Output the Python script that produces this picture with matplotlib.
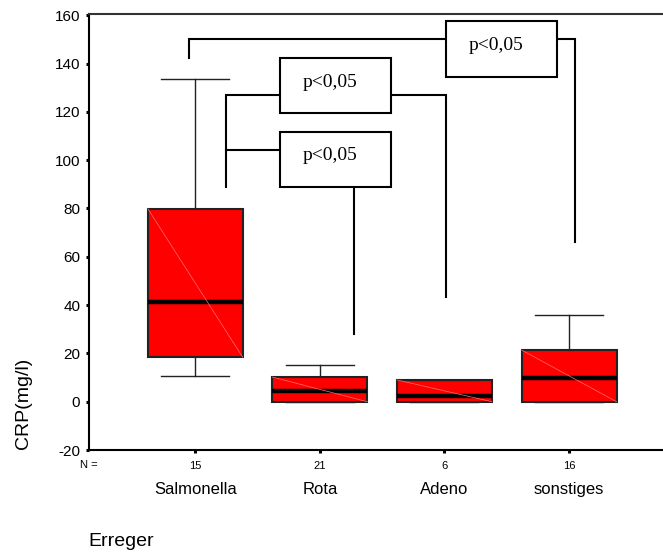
"""CRP by pathogen group: SPSS-style boxplot with significance brackets."""

import matplotlib

matplotlib.use("Agg", force=True)

import matplotlib.pyplot as plt
from matplotlib.patches import Rectangle
from matplotlib.transforms import blended_transform_factory

plt.rcParams["font.family"] = ["Liberation Sans", "DejaVu Sans"]

# data
categories = ["Salmonella", "Rota", "Adeno", "sonstiges"]
n_counts = ["15", "21", "6", "16"]
whisker_low = [10.8, 0.0, 0.0, 0.0]
box_low = [18.4, 0.0, 0.0, 0.0]
medians = [41.4, 4.4, 2.5, 9.9]
box_high = [79.9, 10.2, 9.0, 21.4]
whisker_high = [133.5, 15.2, 9.0, 36.0]

y_ticks = [-20, 0, 20, 40, 60, 80, 100, 120, 140, 160]

# significance annotations: polylines plus label boxes (x0, x1, y0, y1)
bracket_lines = [
    [(0.947, 142.2), (0.947, 150.0), (3.012, 150.0)],
    [(3.903, 150.0), (4.05, 150.0), (4.05, 66.0)],
    [(1.244, 88.8), (1.244, 127.0), (1.68, 127.0)],
    [(2.573, 127.0), (3.014, 127.0), (3.014, 43.2)],
    [(1.244, 104.2), (1.68, 104.2)],
    [(2.276, 88.8), (2.276, 28.0)],
]
label_boxes = [
    (3.012, 3.903, 134.6, 157.5),
    (1.68, 2.573, 119.4, 142.2),
    (1.68, 2.573, 88.8, 111.8),
]
label_text = "p<0,05"

positions = list(range(1, len(categories) + 1))

fig = plt.figure(figsize=(6.63, 5.56), dpi=100)
ax = fig.add_axes([0.1342, 0.1906, 0.8658, 0.7842])

stats = [
    {"whislo": wl, "q1": lo, "med": md, "q3": hi, "whishi": wh, "fliers": []}
    for wl, lo, md, hi, wh in zip(whisker_low, box_low, medians, box_high, whisker_high)
]
ax.bxp(
    stats,
    positions=positions,
    widths=0.762,
    capwidths=0.546,
    patch_artist=True,
    showfliers=False,
    boxprops=dict(facecolor="#ff0000", edgecolor="#222222", linewidth=1.5),
    medianprops=dict(color="black", linewidth=3.2, solid_capstyle="butt"),
    whiskerprops=dict(color="#222222", linewidth=1.0),
    capprops=dict(color="#222222", linewidth=1.0),
    zorder=3,
)

# the faint diagonal streak across each box
half = 0.762 / 2
for pos, lo, hi in zip(positions, box_low, box_high):
    ax.plot([pos - half, pos + half], [hi, lo], color="#ff7070", linewidth=0.5, zorder=4)

for line in bracket_lines:
    xs, ys = zip(*line)
    ax.plot(xs, ys, color="black", linewidth=1.5, solid_joinstyle="miter", zorder=2)

for x0, x1, y0, y1 in label_boxes:
    ax.add_patch(Rectangle((x0, y0), x1 - x0, y1 - y0, facecolor="white",
                           edgecolor="black", linewidth=1.5, zorder=2))
    ax.text((x0 + x1) / 2 - 0.045, (y0 + y1) / 2 + 1.5, label_text, ha="center", va="center",
            fontsize=14, family=["Liberation Serif", "DejaVu Serif"], zorder=5)

ax.set_xlim(0.147, 4.754)
ax.set_ylim(-20, 160.5)
ax.set_yticks(y_ticks)
ax.set_yticklabels([str(t) for t in y_ticks], fontsize=11)
ax.set_xticks(positions)
ax.set_xticklabels(n_counts, fontsize=8)

ax.tick_params(axis="both", direction="out", length=2.2, width=2.2, color="black")
ax.tick_params(axis="y", pad=4)
ax.tick_params(axis="x", pad=6)

ax.spines["right"].set_visible(False)
for side in ("left", "bottom"):
    ax.spines[side].set_linewidth(1.5)
ax.spines["top"].set_linewidth(1.5)
ax.spines["top"].set_color("#333333")

trans = blended_transform_factory(ax.transData, ax.transAxes)
for pos, name in zip(positions, categories):
    ax.text(pos, -0.0894, name, transform=trans, ha="center", va="center", fontsize=12)
ax.text(0.0, -0.0344, "N =", transform=ax.transAxes, ha="center", va="center", fontsize=8)

fig.text(0.0347, 0.275, "CRP(mg/l)", rotation=90, ha="center", va="center", fontsize=14)
fig.text(0.134, 0.0252, "Erreger", ha="left", va="center", fontsize=14)

fig.savefig("out.png", dpi=100)
